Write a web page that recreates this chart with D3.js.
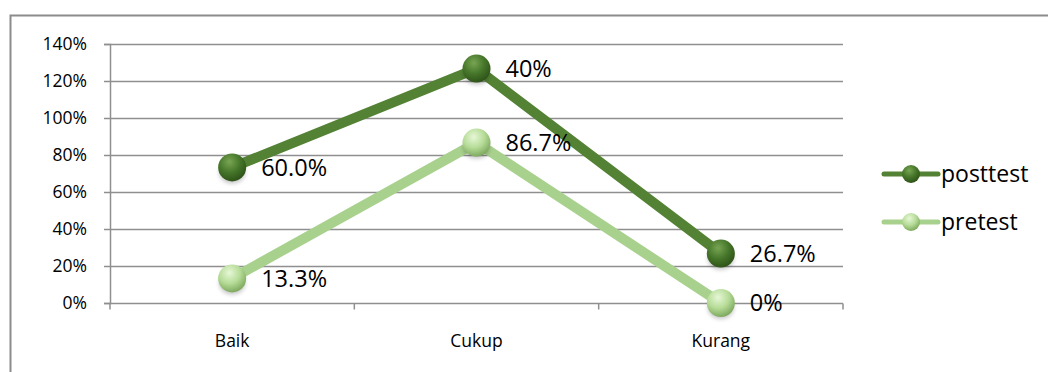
<!DOCTYPE html>
<html>
<head>
<meta charset="utf-8">
<script src="https://cdn.jsdelivr.net/npm/d3@7"></script>
<style>
  html, body { margin: 0; padding: 0; background: #fff; }
  svg { display: block; font-family: "Open Sans", sans-serif; }
</style>
</head>
<body>
<svg id="chart" width="1048" height="372"></svg>
<script>
// Categories and series (percent). The chart is a stacked line chart:
// posttest is drawn on top of pretest, labels show each series' own value.
const categories = ["Baik", "Cukup", "Kurang"];
const pretest = [13.3, 86.7, 0];
const posttest = [60.0, 40, 26.7];
const pretestLabels = ["13.3%", "86.7%", "0%"];
const posttestLabels = ["60.0%", "40%", "26.7%"];
const yTicks = [0, 20, 40, 60, 80, 100, 120, 140];

const FONT = "'Open Sans', sans-serif";
const svg = d3.select("#chart");
const plot = { left: 110, right: 843, top: 44, bottom: 303 };

const x = d3.scaleBand().domain(categories).range([plot.left, plot.right]).padding(0);
const y = d3.scaleLinear().domain([0, 140]).range([plot.bottom, plot.top]);
const cx = c => x(c) + x.bandwidth() / 2;

// Outer chart frame
svg.append("rect")
  .attr("x", 10.5).attr("y", 15.5).attr("width", 1060).attr("height", 400)
  .attr("fill", "none").attr("stroke", "#8c8c8c").attr("stroke-width", 2);

// Gradients for the marker spheres
const defs = svg.append("defs");
function sphere(id, light, mid, dark) {
  const g = defs.append("radialGradient").attr("id", id)
    .attr("cx", "40%").attr("cy", "30%").attr("r", "70%");
  g.append("stop").attr("offset", "0%").attr("stop-color", light);
  g.append("stop").attr("offset", "55%").attr("stop-color", mid);
  g.append("stop").attr("offset", "100%").attr("stop-color", dark);
}
sphere("gPost", "#77a553", "#46762a", "#2f5419");
sphere("gPre", "#e6f7d6", "#b6dc98", "#7faa5f");
const blur = defs.append("filter").attr("id", "shadow").attr("x", "-50%").attr("y", "-50%").attr("width", "200%").attr("height", "200%");
blur.append("feGaussianBlur").attr("stdDeviation", 2);

// Horizontal gridlines
svg.append("g").selectAll("line").data(yTicks.filter(t => t > 0)).join("line")
  .attr("x1", plot.left).attr("x2", plot.right)
  .attr("y1", d => y(d) + 0.5).attr("y2", d => y(d) + 0.5)
  .attr("stroke", "#8f8f8f").attr("stroke-width", 1.5);

// Y axis
const yAxis = svg.append("g").attr("transform", `translate(${plot.left},0)`)
  .call(d3.axisLeft(y).tickValues(yTicks).tickFormat(d => d + "%").tickSize(6).tickPadding(17));
yAxis.attr("font-family", FONT).attr("font-size", 17.5);
yAxis.select(".domain").attr("stroke", "#8f8f8f").attr("stroke-width", 1.5);
yAxis.selectAll(".tick line").attr("stroke", "#8f8f8f").attr("stroke-width", 1.5);
yAxis.selectAll(".tick text").attr("fill", "#000");

// X axis with tick marks between categories
const xAxisG = svg.append("g").attr("transform", `translate(0,${plot.bottom + 0.5})`);
xAxisG.append("line").attr("x1", plot.left).attr("x2", plot.right)
  .attr("stroke", "#8f8f8f").attr("stroke-width", 1.5);
const bounds = categories.map(c => x(c)).concat([plot.right]);
xAxisG.selectAll("line.tk").data(bounds).join("line").attr("class", "tk")
  .attr("x1", d => d).attr("x2", d => d).attr("y1", 0).attr("y2", 6)
  .attr("stroke", "#8f8f8f").attr("stroke-width", 1.5);
xAxisG.selectAll("text").data(categories).join("text")
  .attr("x", d => cx(d)).attr("y", 43).attr("text-anchor", "middle")
  .attr("font-size", 17.5).attr("fill", "#000").text(d => d);

// Stacked values
const preVals = pretest;
const postVals = posttest.map((v, i) => v + pretest[i]);

const line = d3.line().x((d, i) => cx(categories[i])).y(d => y(d));

svg.append("path").datum(postVals).attr("d", line)
  .attr("fill", "none").attr("stroke", "#538234").attr("stroke-width", 10).attr("stroke-linejoin", "miter");
svg.append("path").datum(preVals).attr("d", line)
  .attr("fill", "none").attr("stroke", "#a9d18e").attr("stroke-width", 10).attr("stroke-linejoin", "miter");

function markers(vals, grad, labels) {
  const g = svg.append("g");
  g.selectAll("ellipse").data(vals).join("ellipse")
    .attr("cx", (d, i) => cx(categories[i])).attr("cy", d => y(d) + 5)
    .attr("rx", 13).attr("ry", 11).attr("fill", "#000").attr("opacity", 0.22)
    .attr("filter", "url(#shadow)");
  g.selectAll("circle").data(vals).join("circle")
    .attr("cx", (d, i) => cx(categories[i])).attr("cy", d => y(d))
    .attr("r", 14).attr("fill", `url(#${grad})`);
  g.selectAll("text").data(vals).join("text")
    .attr("x", (d, i) => cx(categories[i]) + 29).attr("y", d => y(d))
    .attr("dy", "0.36em").attr("font-size", 23.5).attr("fill", "#000")
    .text((d, i) => labels[i]);
}
markers(postVals, "gPost", posttestLabels);
markers(preVals, "gPre", pretestLabels);

// Legend
const legend = [
  { name: "posttest", stroke: "#538234", grad: "gPost" },
  { name: "pretest", stroke: "#a9d18e", grad: "gPre" }
];
const lg = svg.append("g").selectAll("g").data(legend).join("g")
  .attr("transform", (d, i) => `translate(884,${174 + i * 48})`);
lg.append("line").attr("x1", 0).attr("x2", 54).attr("stroke", d => d.stroke)
  .attr("stroke-width", 5).attr("stroke-linecap", "round");
lg.append("circle").attr("cx", 27).attr("r", 9).attr("fill", d => `url(#${d.grad})`);
lg.append("text").attr("x", 57).attr("dy", "0.36em").attr("font-size", 23)
  .attr("fill", "#000").text(d => d.name);
</script>
</body>
</html>
